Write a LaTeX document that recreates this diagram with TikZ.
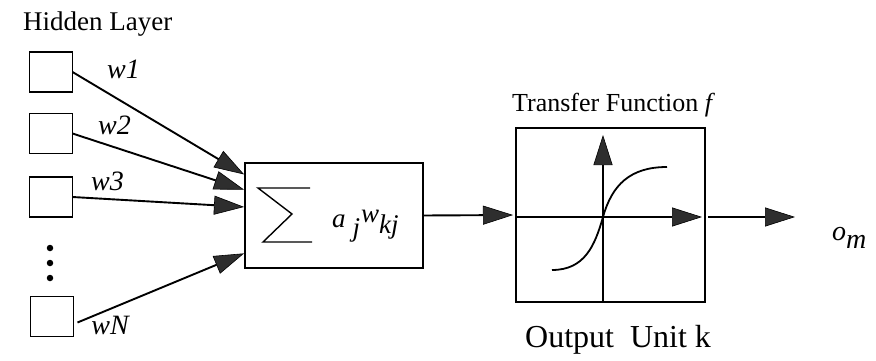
\documentclass[tikz,border=0pt]{standalone}
\usepackage{fontspec}
\setmainfont{Liberation Serif}
\usetikzlibrary{arrows.meta,calc}
\begin{document}
\begin{tikzpicture}[x=1pt,y=-1pt,
  unit/.style={draw, line width=1.8pt, minimum width=43pt, minimum height=40pt, inner sep=0pt, outer sep=0pt},
  bigbox/.style={draw, line width=1.8pt, inner sep=0pt, outer sep=0pt},
  tip/.style={-{Triangle[length=30pt,width=19pt,line width=0.6pt,fill=black!82]}},
  conn/.style={line width=1.9pt, tip},
  dotn/.style={circle, fill=black, minimum size=6.5pt, inner sep=0pt},
  wl/.style={font=\fontsize{28}{30}\selectfont\itshape, anchor=base, inner sep=0pt},
  lbl/.style={font=\fontsize{26}{30}\selectfont, anchor=base west, inner sep=0pt},
  axis/.style={line width=1.4pt, tip}
]
\useasboundingbox (0,0) rectangle (876,361);

% hidden layer units
\node[unit] (h1) at (51,72) {};
\node[unit] (h2) at (51,133.5) {};
\node[unit] (h3) at (51,197) {};
\node[unit] (hN) at (52,316.5) {};
\node[dotn] (d1) at (50,248) {};
\node[dotn] (d2) at (50,263) {};
\node[dotn] (d3) at (50,278) {};
\node[lbl, font=\fontsize{27}{30}\selectfont] (hl) at (23,31) {Hidden Layer};

% summation box
\node[bigbox, minimum width=178pt, minimum height=105pt] (s) at (334,215.5) {};
\draw[line width=1.4pt, line join=miter] (310,188) -- (258,188) -- (292,214) -- (263,242) -- (312,242);
\node[font=\fontsize{27}{30}\selectfont\itshape, anchor=base west, inner sep=0pt] (sumtxt) at (332,227)
  {a\hspace{7pt}\raisebox{-9pt}{j}\hspace{1pt}\raisebox{5pt}{w}\raisebox{-6pt}{kj}};

% connectors from hidden units
\draw[conn, shorten >=1pt] (h1.east) -- ($(s.north west)!0.114!(s.south west)$);
\draw[conn, shorten >=1pt] (h2.east) -- ($(s.north west)!0.257!(s.south west)$);
\draw[conn, shorten >=1pt] (h3.east) -- ($(s.north west)!0.419!(s.south west)$);
\draw[conn, shorten >=1pt] ($(hN.east)+(4,6)$) -- ($(s.north west)!0.857!(s.south west)$);

\node[wl] (l1) at (123.5,78) {w1};
\node[wl] (l2) at (114.5,135) {w2};
\node[wl] (l3) at (107.5,190) {w3};
\node[wl] (lN) at (110,334) {wN};

% transfer function box
\node[bigbox, minimum width=189pt, minimum height=174pt] (tf) at (610.5,215) {};
\node[lbl] (tft) at (512,111) {Transfer Function \textit{f}};
\draw[conn, shorten >=3pt] (s.east) -- (tf.west);
\coordinate (vb) at (603,302);
\coordinate (vt) at (603,135);
\coordinate (hb) at (516,217);
\coordinate (ht) at (702,217);
\draw[axis] (vb) -- (vt);
\draw[axis] (hb) -- (ht);
\draw[line width=1.8pt] (552,270) .. controls (585,270) and (595,245) .. (603,217)
  .. controls (612,185) and (630,167) .. (667,167);
\node[font=\fontsize{32}{36}\selectfont, anchor=base west, inner sep=0pt] (ou) at (525,347) {Output\ \ Unit k};

% output
\coordinate (oe) at (795,217);
\draw[conn] ($(tf.east)+(3,2)$) -- (oe);
\node[font=\fontsize{28}{30}\selectfont\itshape, anchor=base west, inner sep=0pt] (om) at (832,240)
  {o\raisebox{-8pt}{m}};
\end{tikzpicture}
\end{document}
